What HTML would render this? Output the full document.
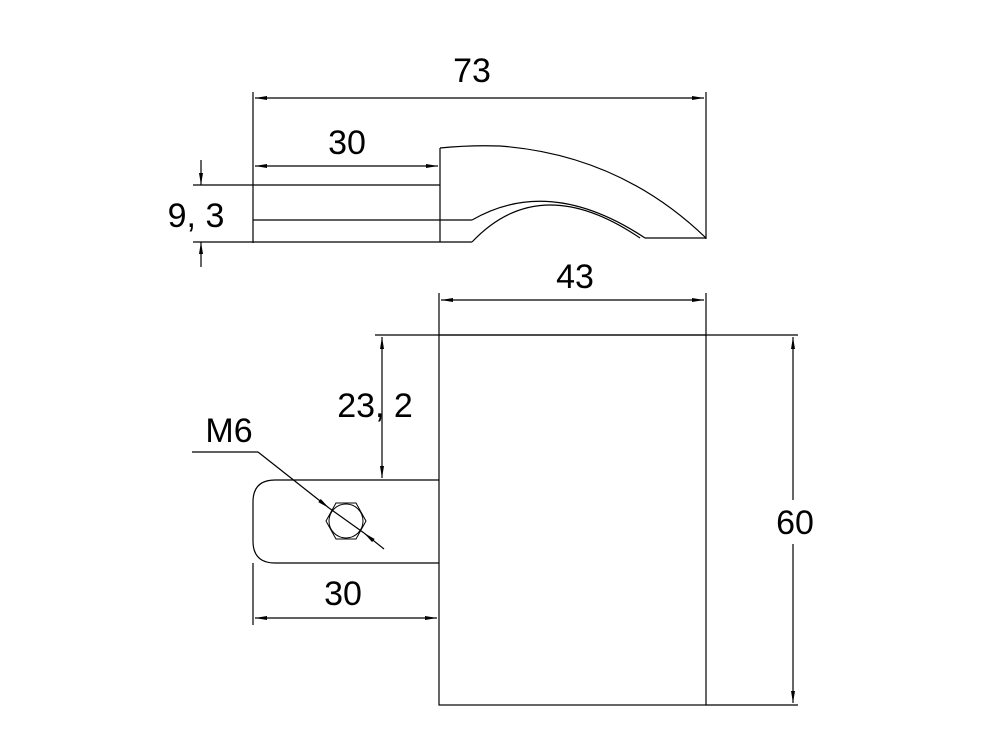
<!DOCTYPE html>
<html><head><meta charset="utf-8"><style>html,body{margin:0;padding:0;background:#fff}</style></head>
<body>
<svg width="1000" height="750" viewBox="0 0 1000 750" xmlns="http://www.w3.org/2000/svg">
<defs>
<marker id="a" viewBox="0 0 12 4" refX="12" refY="2" markerWidth="12" markerHeight="4" orient="auto-start-reverse" markerUnits="userSpaceOnUse"><path d="M0,0 L12,2 L0,4 z" fill="#000"/></marker>
</defs>
<g stroke="#000" stroke-width="1.2" fill="none">
<line x1="253" y1="92" x2="253" y2="243"/>
<line x1="706" y1="92" x2="706" y2="239"/>
<line x1="255" y1="98" x2="704" y2="98" marker-start="url(#a)" marker-end="url(#a)"/>
<line x1="255" y1="166" x2="438" y2="166" marker-start="url(#a)" marker-end="url(#a)"/>
<line x1="193" y1="185" x2="440" y2="185"/>
<line x1="193" y1="242" x2="472" y2="242"/>
<line x1="253" y1="220" x2="472" y2="220"/>
<line x1="440" y1="148" x2="440" y2="242"/>
<path d="M440,148 Q470,145 500,146 Q620,155 706,238"/>
<line x1="645" y1="238" x2="706" y2="238"/>
<path d="M472,220 Q550,175 645,238"/>
<path d="M472,242 Q540,170 640,238"/>
<line x1="201" y1="160" x2="201" y2="185" marker-end="url(#a)"/>
<line x1="201" y1="267" x2="201" y2="242" marker-end="url(#a)"/>
<rect x="439" y="335" width="267" height="370"/>
<line x1="375" y1="335" x2="798" y2="335"/>
<line x1="706" y1="705" x2="798" y2="705"/>
<line x1="439" y1="293" x2="439" y2="335"/>
<line x1="706" y1="293" x2="706" y2="335"/>
<line x1="441" y1="300" x2="704" y2="300" marker-start="url(#a)" marker-end="url(#a)"/>
<line x1="793" y1="500" x2="793" y2="337" marker-end="url(#a)"/>
<line x1="793" y1="544" x2="793" y2="703" marker-end="url(#a)"/>
<line x1="382" y1="337" x2="382" y2="478" marker-start="url(#a)" marker-end="url(#a)"/>
<path d="M439,480 L275,480 Q253,480 253,502 L253,541 Q253,563 275,563 L439,563"/>
<line x1="253" y1="563" x2="253" y2="625"/>
<line x1="255" y1="618" x2="437" y2="618" marker-start="url(#a)" marker-end="url(#a)"/>
<polygon points="326,521 336,503 356,503 366,521 356,539 336,539" stroke-width="1"/>
<circle cx="346" cy="521" r="17" stroke-width="1"/>
<line x1="192" y1="452" x2="258" y2="452"/>
<line x1="258" y1="452" x2="329" y2="508" marker-end="url(#a)"/>
<line x1="384" y1="549" x2="364" y2="533" marker-end="url(#a)"/>
<line x1="329" y1="508" x2="364" y2="533"/>
</g>
<g font-family="Liberation Sans, sans-serif" font-size="34" fill="#000" text-anchor="middle">
<text x="472" y="82">73</text>
<text x="347" y="154">30</text>
<text x="196" y="227">9, 3</text>
<text x="575" y="288">43</text>
<text x="375" y="417">23, 2</text>
<text x="229" y="442">M6</text>
<text x="343" y="605">30</text>
<text x="795" y="534">60</text>
</g>
</svg>
</body></html>
